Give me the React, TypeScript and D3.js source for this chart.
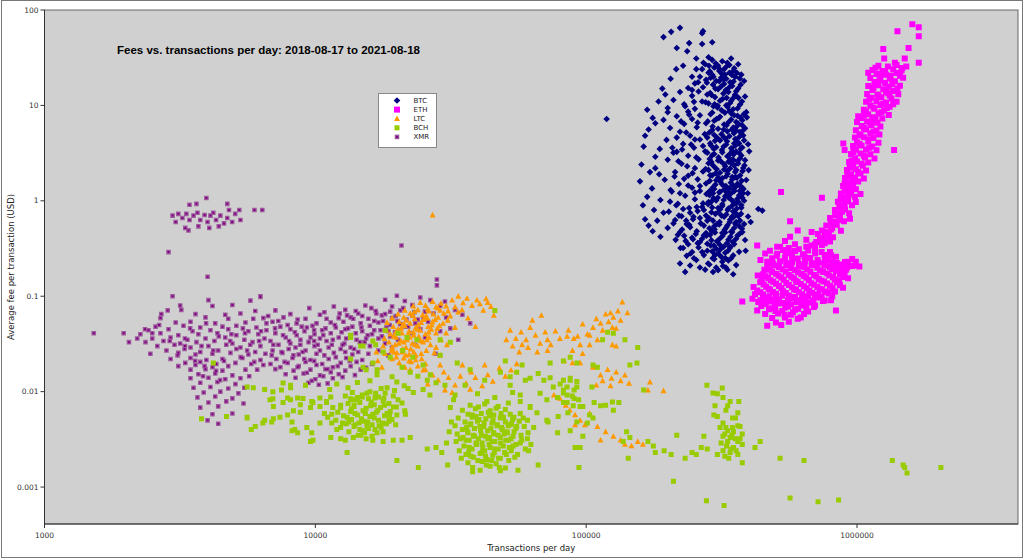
import React from 'react';
import * as d3 from 'd3';

// [transactions per day, average fee in USD]
type Pt = [number, number];

const btc: Pt[] = [
  [222e3,65],[206e3,59],[193e3,52],[270e3,60],[268e3,57],[268e3,44],[292e3,46],[216e3,40],[236e3,37],[255e3,31],[283e3,32],
  [191e3,15],[168e3,9],[176e3,7.4],[165e3,4.8],[163e3,3.7],[185e3,11],[187e3,3.5],[210e3,3.2],[160e3,2.4],[172e3,2.0],
  [168e3,1.1],[165e3,0.64],[176e3,0.48],[188e3,0.42],[204e3,0.98],[193e3,0.75],[232e3,0.18],[222e3,0.22],[263e3,0.2],
  [294e3,0.18],[349e3,0.17],[332e3,0.19],[432e3,0.82],[447e3,0.79],[119e3,7.2],
  [158e3,1.6],[162e3,0.9],[170e3,0.55],[175e3,1.35],[180e3,2.2],[178e3,0.8],[183e3,0.62],[170e3,5.6],[180e3,6.5],[200e3,8.5],
  [196e3,13],[205e3,19],[215e3,24],[228e3,26],[240e3,45],[246e3,20],[180e3,2.9],[186e3,1.9],
  [292e3,30],[318e3,29],[343e3,31],[275e3,27],[307e3,26],[332e3,28],[364e3,27],[268e3,24],[297e3,25],[323e3,24],[349e3,23],
  [283e3,22],[310e3,23],[338e3,22],[374e3,21],[263e3,20],[292e3,21],[315e3,19.5],[355e3,20],[277e3,18.5],[302e3,18],[329e3,19],[383e3,18],
  [252e3,17],[294e3,16.5],[323e3,16.8],[346e3,16],[238e3,15.2],[270e3,15.5],[307e3,14.8],[364e3,15],[222e3,13.8],[260e3,14],[287e3,13.5],[335e3,13.8],
  [246e3,12.6],[299e3,12.2],[355e3,12.8],[386e3,12.4],[210e3,11.4],[268e3,11],[318e3,11.6],[343e3,11.2],[230e3,10.3],[283e3,10.5],[329e3,10],[370e3,10.2],
  [200e3,9.4],[252e3,9.2],[305e3,9.5],[349e3,9.1],[238e3,8.6],[292e3,8.4],[338e3,8.7],[390e3,8.5],[216e3,7.7],[263e3,7.9],[312e3,7.6],[362e3,7.8],
  [193e3,7.05],[246e3,7.2],[297e3,6.9],[343e3,7.1],[377e3,7],[230e3,6.4],[277e3,6.5],[323e3,6.3],[364e3,6.45],
  [204e3,5.8],[256e3,5.9],[307e3,5.7],[349e3,5.85],[386e3,5.75],[222e3,5.3],[285e3,5.2],[332e3,5.35],[370e3,5.25],
  [242e3,4.8],[297e3,4.9],[338e3,4.75],[380e3,4.85],[198e3,4.35],[263e3,4.4],[312e3,4.3],[355e3,4.45],
  [228e3,3.95],[287e3,4],[329e3,3.9],[367e3,3.98],[396e3,3.92],[250e3,3.6],[302e3,3.65],[343e3,3.55],[377e3,3.62],
  [216e3,3.26],[275e3,3.3],[318e3,3.22],[358e3,3.28],[238e3,2.97],[292e3,3],[332e3,2.93],[374e3,2.99],
  [200e3,2.69],[260e3,2.72],[307e3,2.65],[349e3,2.7],[386e3,2.67],[225e3,2.45],[283e3,2.48],[323e3,2.42],[364e3,2.46],
  [252e3,2.2],[299e3,2.23],[340e3,2.18],[380e3,2.21],[213e3,2],[270e3,2.03],[312e3,1.97],[355e3,2.01],
  [238e3,1.83],[287e3,1.85],[329e3,1.81],[370e3,1.84],[195e3,1.66],[258e3,1.68],[302e3,1.64],[346e3,1.67],[390e3,1.65],
  [220e3,1.5],[277e3,1.52],[318e3,1.48],[362e3,1.51],[246e3,1.37],[294e3,1.39],[338e3,1.35],[377e3,1.38],
  [207e3,1.25],[263e3,1.27],[310e3,1.23],[352e3,1.26],[232e3,1.13],[285e3,1.15],[326e3,1.12],[367e3,1.14],
  [188e3,1.02],[252e3,1.04],[302e3,1.01],[343e3,1.03],[383e3,1.0],[218e3,0.93],[270e3,0.94],[318e3,0.92],[358e3,0.935],
  [240e3,0.84],[292e3,0.85],[335e3,0.83],[374e3,0.845],[202e3,0.77],[258e3,0.78],[307e3,0.76],[349e3,0.775],
  [225e3,0.69],[277e3,0.7],[323e3,0.68],[364e3,0.695],[396e3,0.685],[213e3,0.63],[248e3,0.64],[294e3,0.62],[340e3,0.635],
  [235e3,0.57],[265e3,0.58],[310e3,0.565],[355e3,0.575],[383e3,0.57],[200e3,0.52],[242e3,0.53],[285e3,0.515],[329e3,0.525],
  [222e3,0.47],[256e3,0.48],[299e3,0.465],[343e3,0.475],[377e3,0.47],[230e3,0.43],[272e3,0.435],[318e3,0.425],[362e3,0.432],
  [214e3,0.39],[248e3,0.395],[290e3,0.385],[335e3,0.392],[386e3,0.388],[238e3,0.35],[280e3,0.355],[312e3,0.345],[352e3,0.352],
  [223e3,0.32],[260e3,0.325],[302e3,0.315],[340e3,0.322],[246e3,0.29],[292e3,0.295],[326e3,0.285],[367e3,0.292],
  [235e3,0.265],[272e3,0.27],[315e3,0.26],[349e3,0.268],[255e3,0.24],[297e3,0.245],[335e3,0.237],
  [242e3,0.21],[285e3,0.215],[320e3,0.207],[358e3,0.212],[275e3,0.19],[307e3,0.188],
  [292e3,5.54],[358e3,5.5],[280e3,4.6],[323e3,4.62],[270e3,3.75],[355e3,3.78],[297e3,3.1],[340e3,3.12],[290e3,2.55],[335e3,2.57],
  [283e3,2.11],[323e3,2.13],[307e3,1.75],[355e3,1.77],[263e3,1.43],[349e3,1.45],[294e3,1.2],[332e3,1.21],[283e3,0.97],[364e3,0.98],
  [272e3,0.8],[312e3,0.81],[263e3,0.66],[349e3,0.67],[297e3,0.54],[367e3,0.545],[277e3,0.46],[326e3,0.465],[263e3,0.37],[305e3,0.372],
  [300e3,25.5],[325e3,21],[288e3,19.5],[340e3,17.5],[315e3,15.8],[280e3,13],[330e3,12],[295e3,9.8],
  [400e3,3.3],[395e3,1.2],[405e3,0.6],[392e3,7.5],[398e3,2.1],[388e3,0.3],
];

// the dense middle of the BTC column
const btcCore: Pt[] = [
  [271e3,28],[301e3,27.5],[327e3,25],[352e3,24.5],[286e3,22.8],[316e3,21.6],[345e3,20.8],[369e3,19.2],[279e3,17.3],[310e3,17.9],
  [337e3,15.4],[358e3,14.1],[290e3,12.9],[321e3,13.3],[348e3,11.8],[376e3,11],[276e3,10.8],[306e3,9.9],[333e3,9.6],[362e3,9.3],
  [288e3,8.1],[316e3,8.9],[344e3,8.2],[372e3,7.4],[281e3,6.8],[309e3,7.4],[336e3,6.7],[361e3,6.1],[293e3,6],[322e3,5.6],
  [351e3,5.1],[380e3,5.5],[274e3,5],[304e3,4.6],[331e3,4.2],[364e3,4.1],[289e3,3.8],[317e3,3.4],[346e3,3.35],[372e3,3.5],
  [280e3,3.2],[308e3,2.85],[338e3,2.8],[362e3,2.6],[294e3,2.35],[326e3,2.3],[352e3,2.35],[378e3,2.05],[276e3,2.15],[301e3,1.95],
  [333e3,1.92],[360e3,1.75],[286e3,1.62],[313e3,1.58],[342e3,1.55],[369e3,1.45],[297e3,1.33],[323e3,1.31],[351e3,1.3],[380e3,1.2],
  [278e3,1.18],[306e3,1.08],[336e3,1.08],[362e3,1.05],[289e3,0.97],[318e3,0.88],[346e3,0.89],[374e3,0.9],[268e3,0.86],[300e3,0.73],
  [329e3,0.72],[357e3,0.74],[284e3,0.66],[311e3,0.6],[339e3,0.6],[370e3,0.62],[272e3,0.55],[298e3,0.5],[325e3,0.5],[352e3,0.52],
  [287e3,0.44],[314e3,0.41],[341e3,0.42],[368e3,0.45],[268e3,0.4],[296e3,0.34],[322e3,0.33],[348e3,0.37],[280e3,0.3],[307e3,0.28],
  [334e3,0.3],[293e3,0.25],[318e3,0.23],[343e3,0.25],[282e3,0.22],[302e3,0.2],[328e3,0.2],
  [215e3,0.9],[228e3,0.82],[242e3,0.75],[256e3,0.86],[220e3,0.7],[234e3,0.62],[249e3,0.68],[210e3,0.58],[226e3,0.5],[240e3,0.56],
  [254e3,0.45],[218e3,0.44],[233e3,0.38],[246e3,0.41],[258e3,0.36],[228e3,0.32],[243e3,0.28],[250e3,0.25],[205e3,1.3],[222e3,1.2],
  [238e3,1.45],[252e3,1.22],[212e3,1.8],[230e3,1.7],[247e3,1.95],[219e3,2.6],[236e3,2.3],[255e3,2.85],[208e3,3.6],[226e3,3.45],
  [244e3,3.9],[216e3,4.6],[234e3,5.2],[252e3,4.4],[224e3,6.8],[240e3,8],[258e3,6.6],[232e3,9.8],[250e3,10.9],[246e3,14.5],
  [259e3,17.5],[255e3,24],
  [284e3,26],[311e3,24],[338e3,26.5],[360e3,22],[295e3,20],[322e3,18.7],[350e3,17.8],[372e3,16.5],[300e3,15],[328e3,14.5],
  [355e3,13],[312e3,11.2],[340e3,10.6],[365e3,12],[298e3,10.3],[325e3,8.4],[352e3,7.9],[382e3,8.1],[303e3,7.2],[330e3,6.2],
  [358e3,6.7],[377e3,6.2],[290e3,5.4],[316e3,5],[345e3,5.6],[368e3,4.7],[299e3,4.25],[326e3,4.5],[352e3,4],[383e3,4.3],
  [296e3,3.5],[322e3,3.7],[350e3,3.05],[368e3,3.15],[286e3,2.75],[314e3,2.6],[342e3,2.5],[370e3,2.8],[303e3,2.15],[332e3,2.05],
  [358e3,2.1],[384e3,2.35],[292e3,1.85],[318e3,1.72],[346e3,1.78],[375e3,1.62],[300e3,1.48],[328e3,1.43],[356e3,1.4],[381e3,1.33],
  [286e3,1.27],[312e3,1.24],[341e3,1.18],[369e3,1.27],[295e3,1.07],[322e3,1.02],[350e3,0.98],[377e3,1.08],[282e3,0.92],[307e3,0.84],
  [333e3,0.8],[360e3,0.83],[290e3,0.76],[316e3,0.7],[345e3,0.68],[373e3,0.73],[280e3,0.62],[304e3,0.57],[332e3,0.55],[358e3,0.6],
  [291e3,0.48],[318e3,0.46],[346e3,0.47],[376e3,0.51],[278e3,0.43],[305e3,0.38],[331e3,0.36],[358e3,0.4],[288e3,0.34],[313e3,0.31],
  [340e3,0.33],[299e3,0.27],[327e3,0.25],[268e3,0.29],
];

const eth: Pt[] = [
  [1.6e6,71],[1.69e6,66],[1.41e6,60],[1.69e6,53],[1.55e6,40],[1.25e6,39],[1.5e6,31],[1.26e6,31],[1.69e6,28],[1.1e6,22],
  [0.89e6,4.0],[0.9e6,3.4],[1.01e6,7.7],[1.37e6,3.4],[524e3,1.24],[742e3,1.08],[566e3,0.61],[428e3,0.34],[377e3,0.088],
  [1.2e6,26],[1.3e6,25.5],[1.4e6,26.5],[1.14e6,23.5],[1.24e6,23],[1.36e6,24],[1.46e6,23.2],[1.18e6,21.4],[1.28e6,21],[1.4e6,21.8],
  [1.12e6,19.4],[1.22e6,19.8],[1.32e6,19.1],[1.48e6,19.5],[1.16e6,17.6],[1.27e6,17.2],[1.38e6,17.9],
  [1.1e6,16],[1.2e6,16.3],[1.31e6,15.7],[1.44e6,16.1],[1.14e6,14.5],[1.25e6,14.8],[1.36e6,14.2],
  [1.09e6,13.2],[1.19e6,13],[1.3e6,13.4],[1.42e6,13.1],[1.13e6,12],[1.23e6,12.2],[1.34e6,11.8],
  [1.08e6,10.9],[1.18e6,11.1],[1.28e6,10.7],[1.4e6,10.95],[1.12e6,9.9],[1.22e6,10.1],[1.32e6,9.7],
  [1.06e6,9],[1.16e6,9.2],[1.26e6,8.85],[1.1e6,8.1],[1.2e6,8.25],[1.31e6,7.95],
  [1.04e6,7.4],[1.14e6,7.5],[1.24e6,7.3],[1.0e6,6.7],[1.09e6,6.8],[1.19e6,6.6],[1.04e6,6.1],[1.13e6,6.2],[1.22e6,6.0],
  [0.99e6,5.5],[1.08e6,5.6],[1.18e6,5.45],[1.03e6,5.0],[1.12e6,5.1],[1.21e6,4.95],[0.983e6,4.6],[1.06e6,4.65],[1.15e6,4.55],
  [1.0e6,4.1],[1.1e6,4.18],[1.2e6,4.05],[0.967e6,3.75],[1.04e6,3.8],[1.14e6,3.7],[0.99e6,3.42],[1.08e6,3.46],[1.18e6,3.38],
  [0.95e6,3.1],[1.03e6,3.14],[1.12e6,3.07],[0.983e6,2.8],[1.07e6,2.84],[1.16e6,2.77],[0.935e6,2.55],[1.0e6,2.58],[1.1e6,2.52],
  [0.967e6,2.3],[1.05e6,2.33],[0.918e6,2.11],[0.99e6,2.14],[1.08e6,2.08],[0.95e6,1.9],[1.03e6,1.93],
  [0.903e6,1.73],[0.983e6,1.75],[1.06e6,1.71],[0.935e6,1.57],[1.01e6,1.59],[0.888e6,1.43],[0.967e6,1.45],
  [0.918e6,1.3],[0.99e6,1.32],[0.872e6,1.19],[0.95e6,1.2],[1.03e6,1.18],[0.903e6,1.08],[0.983e6,1.1],
  [0.85e6,0.98],[0.927e6,0.99],[0.99e6,0.97],[0.88e6,0.89],[0.958e6,0.9],[0.829e6,0.8],[0.903e6,0.81],
  [0.857e6,0.73],[0.935e6,0.74],[0.795e6,0.66],[0.865e6,0.67],[0.942e6,0.65],[0.822e6,0.6],[0.895e6,0.61],
  [0.77e6,0.55],[0.842e6,0.56],[0.742e6,0.49],[0.802e6,0.5],[0.872e6,0.485],[0.717e6,0.45],[0.787e6,0.455],
  [0.755e6,0.41],[0.815e6,0.415],[0.707e6,0.37],[0.795e6,0.375],[0.68e6,0.34],[0.742e6,0.345],
  [566e3,0.42],[604e3,0.49],[680e3,0.47],[650e3,0.39],[700e3,0.35],[590e3,0.35],[507e3,0.33],[542e3,0.38],[748e3,0.39],
  [795e3,0.29],[836e3,0.26],[927e3,0.23],[983e3,0.21],
  [477e3,0.3],[533e3,0.305],[590e3,0.298],[660e3,0.302],[458e3,0.28],[507e3,0.278],[566e3,0.283],[632e3,0.276],[700e3,0.281],
  [486e3,0.25],[542e3,0.253],[604e3,0.248],[671e3,0.252],[762e3,0.249],
  [466e3,0.23],[520e3,0.232],[576e3,0.228],[643e3,0.231],[720e3,0.227],[808e3,0.233],[903e3,0.229],
  [496e3,0.21],[552e3,0.212],[616e3,0.208],[684e3,0.211],[762e3,0.209],[850e3,0.213],[958e3,0.207],
  [477e3,0.19],[530e3,0.192],[590e3,0.188],[655e3,0.191],[730e3,0.187],[808e3,0.193],[910e3,0.189],
  [450e3,0.17],[502e3,0.172],[560e3,0.168],[623e3,0.171],[693e3,0.167],[777e3,0.173],[865e3,0.169],
  [470e3,0.155],[525e3,0.157],[585e3,0.153],[650e3,0.156],[722e3,0.152],[815e3,0.158],[927e3,0.154],
  [439e3,0.14],[490e3,0.142],[548e3,0.138],[604e3,0.141],[678e3,0.137],[755e3,0.143],[842e3,0.139],
  [462e3,0.126],[515e3,0.128],[576e3,0.124],[637e3,0.127],[714e3,0.125],[795e3,0.129],[888e3,0.123],
  [428e3,0.115],[477e3,0.117],[533e3,0.113],[595e3,0.116],[666e3,0.114],[742e3,0.118],[829e3,0.112],
  [450e3,0.104],[502e3,0.106],[560e3,0.102],[627e3,0.105],[700e3,0.103],[787e3,0.107],
  [411e3,0.094],[462e3,0.096],[515e3,0.092],[576e3,0.095],[643e3,0.093],[720e3,0.097],[802e3,0.091],
  [432e3,0.087],[482e3,0.088],[537e3,0.085],[600e3,0.087],[671e3,0.086],[748e3,0.089],
  [443e3,0.079],[498e3,0.081],[556e3,0.078],[623e3,0.08],[693e3,0.077],
  [428e3,0.071],[473e3,0.073],[530e3,0.07],[590e3,0.072],[660e3,0.069],[836e3,0.071],
  [458e3,0.065],[511e3,0.066],[570e3,0.064],[637e3,0.065],[486e3,0.059],[542e3,0.06],[604e3,0.058],
  [502e3,0.053],[560e3,0.054],[466e3,0.049],[525e3,0.05],
  [490e3,0.22],[548e3,0.222],[610e3,0.218],[680e3,0.221],[757e3,0.219],[842e3,0.223],
  [466e3,0.2],[515e3,0.202],[572e3,0.198],[640e3,0.201],[714e3,0.199],[795e3,0.203],[880e3,0.197],
  [486e3,0.18],[545e3,0.182],[606e3,0.178],[673e3,0.181],[750e3,0.179],[836e3,0.183],
  [460e3,0.162],[513e3,0.164],[572e3,0.16],[636e3,0.163],[708e3,0.161],[790e3,0.165],[890e3,0.159],
  [480e3,0.147],[536e3,0.149],[595e3,0.145],[664e3,0.148],[738e3,0.146],[828e3,0.15],
  [452e3,0.133],[502e3,0.135],[560e3,0.131],[620e3,0.134],[695e3,0.132],[775e3,0.136],[865e3,0.13],
  [472e3,0.12],[526e3,0.122],[586e3,0.118],[652e3,0.121],[728e3,0.119],[812e3,0.123],
  [440e3,0.11],[490e3,0.111],[546e3,0.108],[610e3,0.11],[683e3,0.109],[762e3,0.112],
  [475e3,0.1],[530e3,0.101],[590e3,0.098],[660e3,0.1],[740e3,0.099],
  [440e3,0.091],[497e3,0.092],[556e3,0.089],[620e3,0.091],[690e3,0.09],
  [460e3,0.083],[512e3,0.084],[572e3,0.082],[640e3,0.083],[485e3,0.075],[543e3,0.076],[606e3,0.074],
];

const ethBranch: Pt[] = [
  [1.17e6,24.8],[1.27e6,22.3],[1.33e6,20.5],[1.21e6,18.3],[1.35e6,16.7],[1.15e6,15.2],[1.28e6,13.8],[1.41e6,15],[1.2e6,12.6],
  [1.32e6,12.7],[1.11e6,11.5],[1.25e6,10.4],[1.36e6,10.3],[1.15e6,9.5],[1.29e6,9.4],[1.08e6,8.6],[1.23e6,8.5],[1.44e6,20.3],
  [1.47e6,24.7],[1.52e6,25.5],[1.38e6,28],
  [1.06e6,7.9],[1.17e6,7.1],[1.12e6,6.5],[1.06e6,5.8],[1.15e6,5.3],[1.02e6,4.85],[1.1e6,4.4],[1.02e6,3.95],[1.11e6,3.6],
  [0.97e6,3.25],[1.06e6,2.97],[0.955e6,2.65],[1.04e6,2.45],[0.94e6,2.22],[1.01e6,2.0],[0.92e6,1.82],[0.96e6,1.65],[0.9e6,1.5],
  [0.94e6,1.38],[0.9e6,1.25],[0.93e6,1.14],[0.87e6,1.03],[0.9e6,0.94],[0.86e6,0.85],[0.88e6,0.77],[0.83e6,0.7],[0.86e6,0.63],
  [0.8e6,0.58],[0.81e6,0.52],[0.76e6,0.47],[0.78e6,0.43],[0.73e6,0.39],[0.76e6,0.36],
  [505e3,0.265],[575e3,0.262],[640e3,0.26],[715e3,0.24],[780e3,0.235],[830e3,0.22],[880e3,0.215],[920e3,0.2],[850e3,0.19],
  [870e3,0.175],[900e3,0.165],[860e3,0.145],[780e3,0.11],[720e3,0.105],[810e3,0.1],[760e3,0.09],[700e3,0.08],[650e3,0.075],
  [580e3,0.068],[620e3,0.06],[540e3,0.064],[500e3,0.07],[455e3,0.085],[420e3,0.105],[415e3,0.125],[445e3,0.15],[430e3,0.165],
  [455e3,0.19],[440e3,0.24],[520e3,0.33],[560e3,0.32],[610e3,0.31],[650e3,0.33],[700e3,0.31],[740e3,0.29],[800e3,0.27],
  [960e3,0.245],[990e3,0.23],[1.02e6,0.205],[760e3,0.27],[545e3,0.29],
];

const ltc: Pt[] = [
  [27.1e3,0.71],
  [24.4e3,0.086],[27.1e3,0.088],[29.1e3,0.084],[23e3,0.079],[25.5e3,0.08],[27.9e3,0.077],[30.4e3,0.079],
  [21.4e3,0.071],[23.9e3,0.072],[26.3e3,0.07],[28.9e3,0.071],[20.2e3,0.065],[22.4e3,0.066],[24.9e3,0.064],[27.3e3,0.065],[29.8e3,0.066],
  [19.2e3,0.059],[21.2e3,0.06],[23.3e3,0.058],[25.9e3,0.059],[28.4e3,0.06],
  [18.4e3,0.053],[20.4e3,0.054],[22.4e3,0.052],[24.6e3,0.053],[27.1e3,0.054],[29.6e3,0.052],
  [19.4e3,0.048],[21.4e3,0.049],[23.5e3,0.047],[26.1e3,0.048],[28.7e3,0.049],
  [18.3e3,0.044],[20.2e3,0.045],[22.2e3,0.043],[24.4e3,0.044],[26.8e3,0.045],
  [18.9e3,0.04],[20.9e3,0.041],[23.1e3,0.039],[25.5e3,0.04],[27.9e3,0.041],
  [18e3,0.036],[19.9e3,0.037],[21.8e3,0.035],[23.9e3,0.036],[26.3e3,0.037],
  [18.7e3,0.033],[20.7e3,0.034],[22.8e3,0.032],[25e3,0.033],
  [17.8e3,0.03],[19.7e3,0.031],[21.6e3,0.029],[23.9e3,0.03],[26.6e3,0.031],
  [19.1e3,0.027],[21e3,0.028],[23.1e3,0.026],[25.7e3,0.027],
  [18.1e3,0.025],[20e3,0.0255],[22.2e3,0.0245],[24.6e3,0.025],[27.5e3,0.0255],
  [19.2e3,0.022],[21.2e3,0.0225],[23.5e3,0.0215],[20.4e3,0.02],[22.6e3,0.0205],[25.5e3,0.0195],
  [21.4e3,0.018],[23.9e3,0.0185],[22.4e3,0.017],[25e3,0.0168],
  [23.2e3,0.069],[25.7e3,0.062],[21.7e3,0.056],[24e3,0.05],[26.9e3,0.05],[20.7e3,0.046],[23e3,0.042],[19.5e3,0.038],
  [22.3e3,0.037],[24.5e3,0.034],[20.3e3,0.032],[22.5e3,0.028],[19.5e3,0.026],[21.6e3,0.024],
  [17e3,0.021],[17.6e3,0.018],[16.8e3,0.026],
  [22.9e3,0.063],[25.1e3,0.057],[27.7e3,0.057],[21.1e3,0.051],[23.8e3,0.045],[26.2e3,0.042],[28.2e3,0.046],[19.8e3,0.042],
  [22e3,0.04],[24.1e3,0.038],[21.2e3,0.033],[23.4e3,0.031],[25.8e3,0.035],[19.2e3,0.029],[20.9e3,0.026],[23.5e3,0.024],
  [19.9e3,0.023],[22.2e3,0.021],[24.7e3,0.022],[26e3,0.073],[28.4e3,0.075],[30.9e3,0.07],[31.5e3,0.062],[32.8e3,0.077],
  [34.8e3,0.072],[40.5e3,0.083],[42.7e3,0.094],[44.5e3,0.078],
  [32e3,0.091],[33.7e3,0.1],[35.1e3,0.085],[36.3e3,0.095],[37.9e3,0.08],[39.5e3,0.091],[41.7e3,0.071],[43.3e3,0.086],[45.6e3,0.063],
  [33.7e3,0.068],[30.8e3,0.056],[36.6e3,0.059],[39e3,0.048],[32.8e3,0.047],[30.4e3,0.041],[29.1e3,0.035],[27.9e3,0.029],[28.9e3,0.024],[30.6e3,0.031],
  [25.5e3,0.017],[27.1e3,0.0149],[28.4e3,0.0132],[29.8e3,0.016],[31e3,0.014],[32.8e3,0.0117],[34.3e3,0.0145],[36e3,0.0122],
  [37.6e3,0.016],[39e3,0.014],[41.3e3,0.0115],[43.3e3,0.015],[45.2e3,0.0128],[47.8e3,0.0177],[50.3e3,0.0145],[52.8e3,0.0168],
  [55.4e3,0.0196],[26e3,0.012],[32e3,0.0098],[37.3e3,0.0106],[28.9e3,0.019],[34.9e3,0.019],[42.2e3,0.019],[30.1e3,0.0104],
  [52.4e3,0.044],[55e3,0.036],[57.5e3,0.042],[60e3,0.035],[62.1e3,0.047],[65e3,0.039],[67.6e3,0.032],[70.6e3,0.042],
  [53.5e3,0.03],[56.6e3,0.026],[61e3,0.029],[66e3,0.026],[72e3,0.027],[63.3e3,0.056],[68.3e3,0.063],[50.7e3,0.035],[58e3,0.031],[72e3,0.035],
  [85e3,0.038],[86e3,0.044],[89e3,0.027],[93e3,0.038],[95e3,0.031],[97e3,0.051],[97e3,0.025],[101e3,0.04],[103e3,0.031],
  [106e3,0.047],[110e3,0.035],[113e3,0.052],[118e3,0.065],[123e3,0.067],[125e3,0.047],[126e3,0.06],[129e3,0.046],[131e3,0.07],
  [136e3,0.087],[142e3,0.067],[125e3,0.031],[129e3,0.030],[89e3,0.02],[95e3,0.02],[83e3,0.021],[80e3,0.036],[77e3,0.043],
  [74e3,0.031],[109e3,0.058],[115e3,0.044],[134e3,0.056],[103e3,0.039],[90e3,0.036],[121e3,0.054],
  [106e3,0.018],[113e3,0.0149],[115e3,0.013],[120e3,0.017],[124e3,0.0138],[129e3,0.016],[134e3,0.013],[139e3,0.0149],
  [144e3,0.0122],[109e3,0.0117],[123e3,0.0115],[172e3,0.0126],[169e3,0.0104],[193e3,0.0102],
  [84e3,0.0072],[87e3,0.0064],[91e3,0.0057],[95e3,0.005],[91e3,0.0045],[99e3,0.0045],[103e3,0.0059],[110e3,0.0043],
  [118e3,0.0038],[126e3,0.0034],[134e3,0.0031],[139e3,0.0028],[147e3,0.0027],[155e3,0.003],[162e3,0.0028],[113e3,0.0031],
  [80e3,0.0085],[76e3,0.0092],
];

const bch: Pt[] = [
  [37.3e3,0.0072],[42.2e3,0.0074],[47.3e3,0.007],[34.9e3,0.0064],[39e3,0.0066],[44.2e3,0.0063],[50.3e3,0.0065],
  [36.6e3,0.0058],[41e3,0.0059],[45.6e3,0.0057],[52.4e3,0.0058],[57.1e3,0.0059],
  [33.7e3,0.0053],[37.9e3,0.0054],[42.6e3,0.0052],[48.2e3,0.0053],[54.1e3,0.0054],
  [35.7e3,0.0048],[39.7e3,0.0049],[44.9e3,0.0047],[50.3e3,0.0048],[56.6e3,0.0049],
  [32.8e3,0.0044],[37.3e3,0.0045],[41.9e3,0.0043],[46.9e3,0.0044],[52.4e3,0.0045],[59.1e3,0.0043],
  [34.9e3,0.004],[38.7e3,0.0041],[43.3e3,0.0039],[49e3,0.004],[55e3,0.0041],
  [33.4e3,0.0036],[36.6e3,0.0037],[41e3,0.0035],[45.6e3,0.0036],[51.2e3,0.0037],[57.5e3,0.0035],
  [35.1e3,0.0033],[38.7e3,0.0034],[43.3e3,0.0032],[48.2e3,0.0033],[53.7e3,0.0034],[60.7e3,0.0032],
  [33.1e3,0.003],[37e3,0.0031],[41.3e3,0.0029],[46e3,0.003],[51.6e3,0.0031],[57.1e3,0.0029],
  [35.4e3,0.0027],[39.4e3,0.0028],[44.2e3,0.0026],[49.4e3,0.0027],[55e3,0.0028],
  [34e3,0.0024],[37.9e3,0.0025],[42.2e3,0.0024],[47.3e3,0.0025],[52.9e3,0.0024],[59.6e3,0.0025],
  [36e3,0.0022],[40.6e3,0.00225],[45.2e3,0.00215],[50.7e3,0.0022],
  [34.6e3,0.002],[38.4e3,0.00205],[43e3,0.00195],[48.2e3,0.002],[54.5e3,0.00205],
  [36.6e3,0.0018],[41.3e3,0.00185],[46.5e3,0.00175],[38.1e3,0.0016],[44.2e3,0.00165],[50.3e3,0.00158],[40.6e3,0.0015],[48.2e3,0.00148],
  [39.2e3,0.0055],[44e3,0.0056],[49.5e3,0.0054],[37.5e3,0.0046],[42e3,0.0047],[47e3,0.0045],[53e3,0.0046],
  [36.5e3,0.0038],[40.8e3,0.0039],[45.5e3,0.0037],[51e3,0.0038],[36e3,0.0031],[40e3,0.0032],[45e3,0.003],[50.5e3,0.0031],
  [37e3,0.0026],[41.5e3,0.0026],[46.2e3,0.0025],[52e3,0.0026],[37.5e3,0.0021],[42.5e3,0.0021],[47.5e3,0.002],
  [38e3,0.0057],[43.5e3,0.0061],[48.5e3,0.0059],[53.5e3,0.0051],[40.2e3,0.0051],[45.3e3,0.005],[51.5e3,0.0044],[36.2e3,0.0042],
  [40.5e3,0.0043],[44.5e3,0.0041],[48.7e3,0.0042],[54.2e3,0.0038],[38.3e3,0.0035],[42.5e3,0.0034],[47.3e3,0.0035],[52.8e3,0.0032],
  [57.8e3,0.0031],[34.3e3,0.0032],[39.2e3,0.0029],[43.8e3,0.0028],[48.3e3,0.0029],[53.8e3,0.0027],[36.8e3,0.0023],[41.2e3,0.0023],
  [45.8e3,0.0023],[50e3,0.0023],[55.8e3,0.0022],[39.8e3,0.0019],[44.8e3,0.0019],[51.8e3,0.0019],[42.8e3,0.0017],[47.8e3,0.0016],
  [31.2e3,0.0038],[30.5e3,0.0029],[31.8e3,0.0048],[61e3,0.0037],[62.5e3,0.0028],[58.5e3,0.0053],[46.5e3,0.0067],[40e3,0.0069],
  [44e3,0.0033],[49.8e3,0.0036],
  [24e3,0.0016],[20e3,0.0019],[25.9e3,0.0025],[27.9e3,0.0026],[29.3e3,0.0023],[30.8e3,0.0017],[38.1e3,0.00145],[56e3,0.0015],
  [61.3e3,0.0024],[66.5e3,0.0017],[91e3,0.0026],[78.4e3,0.0037],[71.6e3,0.005],[31.5e3,0.0068],[32.4e3,0.0082],[43e3,0.0079],
  [51.6e3,0.0076],[64e3,0.0042],[62.1e3,0.007],
  [13.7e3,0.0098],[15.9e3,0.01],[18.1e3,0.0096],[12.9e3,0.009],[14.9e3,0.0092],[17.1e3,0.0088],[19.4e3,0.009],
  [14e3,0.0082],[15.7e3,0.0084],[17.8e3,0.008],[20.2e3,0.0082],[13.2e3,0.0075],[14.6e3,0.0077],[16.5e3,0.0073],[18.7e3,0.0075],[20.9e3,0.0076],
  [12.4e3,0.0068],[13.9e3,0.007],[15.4e3,0.0067],[17.4e3,0.0068],[19.4e3,0.0069],
  [13.5e3,0.0062],[15e3,0.0063],[16.8e3,0.0061],[18.9e3,0.0062],[21.4e3,0.0063],
  [12.7e3,0.0056],[14.3e3,0.0057],[15.9e3,0.0055],[18e3,0.0056],[20e3,0.0057],
  [11.9e3,0.005],[13.6e3,0.0051],[15.1e3,0.0049],[17.1e3,0.005],[19.2e3,0.0051],
  [13e3,0.0046],[14.5e3,0.0047],[16.2e3,0.0045],[18.3e3,0.0046],[12.4e3,0.0042],[13.9e3,0.0043],[15.7e3,0.0041],[17.5e3,0.0042],
  [13.3e3,0.0038],[15e3,0.0039],[16.9e3,0.0037],[14.4e3,0.0035],[16.2e3,0.0034],[12.9e3,0.0031],[15.4e3,0.0032],
  [13.1e3,0.0023],[9.6e3,0.003],[9.8e3,0.0031],[11.4e3,0.0033],[12.4e3,0.0032],[14.7e3,0.0035],[16.3e3,0.0031],[17.8e3,0.003],
  [19.4e3,0.0031],[20.9e3,0.0031],[22.4e3,0.0033],
  [14.3e3,0.0087],[16.6e3,0.0086],[13.9e3,0.0072],[16e3,0.0071],[18e3,0.0072],[14e3,0.0059],[16.3e3,0.0058],[18.4e3,0.0059],
  [13.3e3,0.0048],[15.6e3,0.0048],[17.7e3,0.0047],[14.6e3,0.004],[16.6e3,0.004],
  [13.6e3,0.0066],[15.3e3,0.0059],[17e3,0.0064],[18.8e3,0.0055],[14.8e3,0.0052],[16.5e3,0.0053],[18.7e3,0.0049],[14e3,0.0045],
  [15.5e3,0.0044],[17.2e3,0.0044],[19.8e3,0.0045],[13.1e3,0.0054],[12.1e3,0.0061],[11.5e3,0.0058],[12.6e3,0.0047],[16.1e3,0.0078],
  [17.9e3,0.0085],[19.9e3,0.0069],[21.5e3,0.0058],[15.2e3,0.0037],[17.8e3,0.0038],[13.8e3,0.0033],
  [3.8e3,0.0052],[5.6e3,0.0053],[5.8e3,0.004],[6e3,0.0043],[4.7e3,0.0055],[5.6e3,0.0112],[6.4e3,0.0047],[6.9e3,0.0048],
  [6.8e3,0.0082],[6.97e3,0.0084],[7.5e3,0.0104],[7.6e3,0.0077],[7.4e3,0.0054],[7.9e3,0.0057],[8.2e3,0.0048],[8.8e3,0.0061],
  [8.4e3,0.004],[8.2e3,0.0039],[8.6e3,0.0037],[9.3e3,0.0042],[9.7e3,0.0037],[9e3,0.0085],[8.1e3,0.0082],[9.7e3,0.0079],
  [10.4e3,0.007],[11.1e3,0.0054],[10.4e3,0.0047],[10.8e3,0.0059],[11.5e3,0.0047],[12e3,0.004],[11.4e3,0.0088],[7.6e3,0.0123],
  [8.1e3,0.0117],[9.2e3,0.0117],[4.2e3,0.02],[5.9e3,0.011],[6.5e3,0.0105],[6.97e3,0.01],[8.1e3,0.011],[5.6e3,0.0054],
  [6.5e3,0.005],[7e3,0.0052],[7e3,0.007],[7.9e3,0.0086],[8.6e3,0.0086],[8.8e3,0.0073],[8.3e3,0.0063],[9.6e3,0.0068],
  [9.8e3,0.0077],[10.4e3,0.0086],[11e3,0.0077],[11.6e3,0.0068],[12.4e3,0.007],[13.5e3,0.0082],
  [13.5e3,0.039],[14.7e3,0.03],[16.7e3,0.031],[17.8e3,0.026],[18.9e3,0.023],[20.9e3,0.018],[22.4e3,0.016],[23.9e3,0.0145],
  [25.9e3,0.0132],[27.9e3,0.0124],[30.1e3,0.0117],[21e3,0.027],[22.9e3,0.023],[25e3,0.019],[26.6e3,0.015],[13.5e3,0.022],
  [15e3,0.018],[16.9e3,0.015],[19.2e3,0.0143],[20e3,0.0126],[22e3,0.0108],[18.4e3,0.011],[15.5e3,0.0096],[23.7e3,0.035],
  [21.8e3,0.037],[20.2e3,0.041],[28.9e3,0.035],[31.5e3,0.033],[28.9e3,0.024],[33.4e3,0.02],[46e3,0.071],[18.1e3,0.044],
  [13.5e3,0.037],[15e3,0.03],[16.3e3,0.034],[16.3e3,0.02],[16.9e3,0.017],[15.4e3,0.017],[15.9e3,0.013],[14.9e3,0.0088],
  [16.7e3,0.0096],[11.6e3,0.0068],[12.4e3,0.0072],[13.5e3,0.0084],[11e3,0.0079],
  [12e3,0.012],[13.2e3,0.011],[14.3e3,0.0125],[17.5e3,0.0108],[19.6e3,0.0103],[21.3e3,0.0115],[23e3,0.0098],[25e3,0.0105],
  [11.3e3,0.0105],[26.5e3,0.0092],
  [37.3e3,0.017],[42.2e3,0.0132],[48.2e3,0.016],[52.4e3,0.0117],[39.7e3,0.0095],[46e3,0.0087],[35.7e3,0.0117],[57.1e3,0.0092],
  [32.8e3,0.0092],[50.3e3,0.021],[58e3,0.019],
  [52.4e3,0.0143],[55.4e3,0.016],[59.6e3,0.0132],[62.1e3,0.0138],[66.5e3,0.0155],[69.8e3,0.0132],[73.6e3,0.014],[75.6e3,0.0112],
  [80.2e3,0.012],[82.4e3,0.0104],[87.3e3,0.0132],[92.4e3,0.0112],[67.6e3,0.0096],[71.6e3,0.0082],[78.4e3,0.0087],[85e3,0.0092],
  [90.3e3,0.0085],[82.4e3,0.0077],[97.2e3,0.007],[53.5e3,0.0098],[57.1e3,0.0079],[62.1e3,0.0068],[65.8e3,0.006],[60.7e3,0.005],
  [55.4e3,0.0043],[72.3e3,0.0048],[78.8e3,0.0055],[92.4e3,0.0048],[87.3e3,0.0039],[97.2e3,0.0034],[73.6e3,0.02],[82.4e3,0.021],
  [87.3e3,0.023],[92.4e3,0.02],
  [82.4e3,0.0132],[87.3e3,0.0138],[92.4e3,0.0128],[85e3,0.0112],[90.3e3,0.0104],[82.4e3,0.0097],[88.9e3,0.009],[93.8e3,0.0082],
  [85e3,0.0077],[89.6e3,0.0071],[95e3,0.007],[85.6e3,0.006],[103e3,0.0057],[106e3,0.0053],[101e3,0.0047],[107e3,0.0077],
  [113e3,0.0071],[118e3,0.0072],[126e3,0.0064],[110e3,0.018],[105e3,0.0112],[106e3,0.019],[115e3,0.035],[120e3,0.042],
  [126e3,0.041],[139e3,0.035],[155e3,0.029],[145e3,0.019],[154e3,0.02],[163e3,0.0104],[132e3,0.0077],[125e3,0.0078],
  [95e3,0.0026],[94e3,0.0016],[141e3,0.0038],[145e3,0.0033],[137e3,0.003],[143e3,0.002],[169e3,0.003],[177e3,0.0027],
  [180e3,0.0023],[194e3,0.0024],[206e3,0.0022],[216e3,0.0035],[232e3,0.002],[246e3,0.0023],[255e3,0.0022],[266e3,0.0026],
  [280e3,0.0025],[272e3,0.0034],[210e3,0.00115],[278e3,0.00072],[323e3,0.00064],[439e3,0.003],[420e3,0.0026],[377e3,0.0018],
  [520e3,0.002],
  [279e3,0.0117],[318e3,0.0109],[294e3,0.0097],[305e3,0.0095],[320e3,0.0087],[340e3,0.0079],[366e3,0.0079],[299e3,0.0071],
  [333e3,0.0071],[363e3,0.006],[296e3,0.0057],[305e3,0.0055],[328e3,0.0064],[347e3,0.0053],[356e3,0.0053],[320e3,0.0047],
  [363e3,0.0044],[370e3,0.0043],[312e3,0.0042],[333e3,0.0039],[350e3,0.0038],[377e3,0.0036],[320e3,0.0034],[340e3,0.0033],
  [363e3,0.003],[377e3,0.0028],[333e3,0.003],[350e3,0.0026],[320e3,0.0024],[340e3,0.0023],[363e3,0.0022],[336e3,0.002],
  [305e3,0.0022],[328e3,0.0042],[347e3,0.0042],[325e3,0.0036],[345e3,0.0035],[355e3,0.0032],[330e3,0.0027],[315e3,0.0029],
  [342e3,0.0025],[358e3,0.0024],[325e3,0.0021],[370e3,0.0032],
  [1.35e6,0.0019],[1.48e6,0.0017],[1.5e6,0.0016],[1.53e6,0.0014],[2.04e6,0.0016],[855e3,0.00073],[566e3,0.00077],[718e3,0.0007],[637e3,0.0019],
];

const xmr: Pt[] = [
  [3.96e3,1.07],[3.64e3,0.93],[4.73e3,0.93],[5.24e3,0.8],[5.96e3,0.8],[6.37e3,0.8],
  [2.97e3,0.7],[3.12e3,0.73],[3.23e3,0.66],[3.34e3,0.73],[3.43e3,0.63],[3.55e3,0.7],[3.67e3,0.75],[3.76e3,0.63],[3.9e3,0.71],
  [4e3,0.6],[4.1e3,0.7],[4.2e3,0.75],[4.3e3,0.63],[4.46e3,0.7],[4.6e3,0.58],[4.73e3,0.66],[4.93e3,0.6],[5.06e3,0.73],[5.29e3,0.63],
  [3.31e3,0.52],[3.4e3,0.49],[3.7e3,0.54],[3.05e3,0.6],[4.4e3,0.54],[4.06e3,0.52],[3.43e3,0.91],[4.8e3,0.8],
  [2.87e3,0.29],[4e3,0.16],[6.27e3,0.1],[20.8e3,0.34],[28.1e3,0.15],[28.1e3,0.13],[1.52e3,0.041],[1.96e3,0.041],
  [2.97e3,0.1],[6.27e3,0.098],[20e3,0.101],[24.4e3,0.097],
  [4.03e3,0.091],[5.76e3,0.09],[18.1e3,0.092],[21.4e3,0.089],[26.6e3,0.091],[30.1e3,0.088],
  [3.17e3,0.08],[4.17e3,0.079],[4.94e3,0.081],[15.3e3,0.08],[19.2e3,0.078],[22.8e3,0.081],[28.9e3,0.079],
  [2.85e3,0.071],[3.2e3,0.072],[6e3,0.07],[7.12e3,0.071],[12.9e3,0.072],[16.7e3,0.07],[20.6e3,0.071],[25.4e3,0.069],[32.8e3,0.072],
  [3.61e3,0.065],[4.65e3,0.064],[5.29e3,0.066],[8.09e3,0.065],[10.4e3,0.064],[14.4e3,0.066],[18.1e3,0.065],[22.8e3,0.063],[27.3e3,0.066],[34.9e3,0.064],
  [2.68e3,0.059],[3.93e3,0.06],[4.77e3,0.058],[6.43e3,0.059],[7.63e3,0.06],[9.2e3,0.058],[12.2e3,0.059],[13.5e3,0.06],[15.7e3,0.058],[19.2e3,0.059],[23.9e3,0.057],[30.4e3,0.06],
  [3.05e3,0.053],[3.46e3,0.054],[4.27e3,0.052],[5.52e3,0.053],[6.95e3,0.054],[8.53e3,0.052],[11.4e3,0.053],[12.7e3,0.054],[14.7e3,0.052],[17.1e3,0.053],[20.6e3,0.051],[26.1e3,0.054],[37.3e3,0.052],
  [2.57e3,0.048],[3.26e3,0.049],[3.76e3,0.047],[4.54e3,0.048],[5.11e3,0.049],[6.06e3,0.047],[7.43e3,0.048],[9.76e3,0.049],[11.9e3,0.047],[13.7e3,0.048],[15.9e3,0.049],[18.3e3,0.047],[22e3,0.048],[31.5e3,0.046],
  [2.42e3,0.044],[2.87e3,0.045],[3.52e3,0.043],[4.1e3,0.044],[4.77e3,0.045],[5.66e3,0.043],[6.6e3,0.044],[8.09e3,0.045],[9.12e3,0.043],[10.6e3,0.044],[12.9e3,0.045],[14.9e3,0.043],[17.4e3,0.044],[19.7e3,0.042],[24.4e3,0.045],[28.9e3,0.043],
  [2.26e3,0.04],[2.68e3,0.041],[3.12e3,0.039],[3.7e3,0.04],[4.35e3,0.041],[5.11e3,0.039],[6.16e3,0.04],[7.12e3,0.041],[8.53e3,0.039],[9.93e3,0.04],[11.4e3,0.041],[13.5e3,0.039],[16.2e3,0.04],[18.9e3,0.038],[22.8e3,0.041],
  [2.5e3,0.036],[2.92e3,0.037],[3.37e3,0.035],[3.93e3,0.036],[4.65e3,0.037],[5.47e3,0.035],[6.49e3,0.036],[7.77e3,0.037],[8.81e3,0.035],[10.4e3,0.036],[12.2e3,0.037],[14.2e3,0.035],[17.1e3,0.036],[20.2e3,0.035],[25.4e3,0.037],[33.7e3,0.035],
  [2.36e3,0.033],[2.75e3,0.034],[3.17e3,0.032],[3.64e3,0.033],[4.24e3,0.034],[4.94e3,0.032],[5.86e3,0.033],[6.83e3,0.034],[8.09e3,0.032],[9.44e3,0.033],[11e3,0.034],[12.8e3,0.032],[15.2e3,0.033],[18.1e3,0.032],
  [2.61e3,0.03],[3.02e3,0.031],[3.46e3,0.029],[4.03e3,0.03],[4.69e3,0.031],[5.29e3,0.029],[6.27e3,0.03],[7.31e3,0.031],[8.45e3,0.029],[9.93e3,0.03],[11.5e3,0.031],[13.5e3,0.029],[15.9e3,0.03],[19.2e3,0.029],[23.3e3,0.031],
  [2.82e3,0.027],[3.29e3,0.028],[3.76e3,0.026],[4.38e3,0.027],[5.11e3,0.028],[6e3,0.026],[6.95e3,0.027],[7.97e3,0.028],[8.97e3,0.026],[10.4e3,0.027],[12.4e3,0.028],[14.4e3,0.026],[17.1e3,0.027],
  [2.46e3,0.025],[3.12e3,0.0255],[3.61e3,0.0245],[4.17e3,0.025],[4.86e3,0.0255],[5.66e3,0.0245],[6.54e3,0.025],[7.56e3,0.0255],[8.68e3,0.0245],[10.1e3,0.025],[11.7e3,0.0255],[13.7e3,0.0245],[15.7e3,0.025],[18.6e3,0.024],[27.8e3,0.025],
  [2.92e3,0.022],[3.46e3,0.0225],[3.96e3,0.0215],[4.54e3,0.022],[5.38e3,0.0225],[6.27e3,0.0215],[7.18e3,0.022],[8.24e3,0.0225],[9.59e3,0.0215],[11.2e3,0.022],[13e3,0.0225],[14.9e3,0.0215],
  [3.31e3,0.02],[3.76e3,0.0205],[4.31e3,0.0195],[5.07e3,0.02],[5.95e3,0.0205],[6.83e3,0.0195],[7.9e3,0.02],[9.2e3,0.0205],[10.6e3,0.0195],[12.4e3,0.02],[14.2e3,0.0205],[16.2e3,0.0195],
  [3.12e3,0.0185],[3.61e3,0.019],[4.17e3,0.018],[4.77e3,0.0185],[6.43e3,0.019],[7.43e3,0.018],[8.68e3,0.0185],[10.1e3,0.019],[11.6e3,0.018],[13.5e3,0.0185],[15.4e3,0.0178],
  [3.46e3,0.017],[3.93e3,0.0172],[4.54e3,0.0166],[5.52e3,0.017],[7.12e3,0.0172],[8.31e3,0.0166],[9.59e3,0.017],[11.1e3,0.0172],[12.9e3,0.0166],[14.7e3,0.017],
  [3.7e3,0.0152],[4.27e3,0.0155],[4.94e3,0.0148],[7.77e3,0.0152],[9.05e3,0.0155],[10.4e3,0.0148],[12.2e3,0.0152],[14e3,0.0149],
  [3.46e3,0.0138],[4.03e3,0.014],[4.65e3,0.0135],[5.29e3,0.0138],[8.45e3,0.014],[10e3,0.0135],[11.6e3,0.0138],
  [3.76e3,0.0124],[4.35e3,0.0126],[5.07e3,0.012],[9.44e3,0.0124],[11.1e3,0.0122],
  [3.55e3,0.011],[4.1e3,0.0112],[4.77e3,0.0108],[5.47e3,0.011],[3.87e3,0.0098],[4.46e3,0.01],[5.2e3,0.0096],
  [3.67e3,0.0087],[4.27e3,0.0089],[4.94e3,0.0085],[4.03e3,0.0077],[4.69e3,0.0079],[5.43e3,0.0075],
  [3.76e3,0.0068],[4.38e3,0.007],[4.17e3,0.0058],[4.94e3,0.0059],[4e3,0.005],[4.38e3,0.0046],
  [5.9e3,0.058],[6.7e3,0.062],[7.3e3,0.055],[7.9e3,0.05],[8.6e3,0.057],[9.3e3,0.047],[10.1e3,0.052],[10.9e3,0.046],[11.8e3,0.05],
  [12.5e3,0.042],[13.2e3,0.046],[14.1e3,0.041],[14.8e3,0.047],[15.6e3,0.039],[16.5e3,0.044],[17.6e3,0.038],[18.6e3,0.043],
  [6.3e3,0.043],[7.6e3,0.039],[8.4e3,0.042],[9.6e3,0.037],[10.7e3,0.039],[11.6e3,0.035],[13e3,0.036],[14.6e3,0.033],[15.4e3,0.036],
  [6.2e3,0.034],[7e3,0.031],[8.8e3,0.031],[9.9e3,0.034],[11.2e3,0.029],[12.6e3,0.031],[13.9e3,0.028],[7.5e3,0.026],[8.3e3,0.024],
  [9.2e3,0.027],[10.8e3,0.024],[11.9e3,0.023],[12.9e3,0.026],[7.7e3,0.0205],[8.6e3,0.018],[9.9e3,0.021],[10.9e3,0.0172],
  [12.1e3,0.0185],[13.4e3,0.021],[9.3e3,0.0158],[10.7e3,0.0145],[11.4e3,0.016],[12.6e3,0.0142],[9.7e3,0.013],[10.3e3,0.0118],
  [16.8e3,0.066],[17.8e3,0.055],[19.8e3,0.062],[21.7e3,0.057],[23.4e3,0.052],[25.1e3,0.059],[18.9e3,0.069],[21.1e3,0.075],
  [23.2e3,0.068],[16.1e3,0.075],[14.1e3,0.07],[13.1e3,0.063],[3.45e3,0.046],[3.95e3,0.052],[4.4e3,0.038],[5.5e3,0.041],
  [2.9e3,0.034],[3.3e3,0.03],[4.85e3,0.034],[5.75e3,0.031],[4.2e3,0.027],[3.1e3,0.024],[5.3e3,0.023],[4.6e3,0.021],[3.6e3,0.021],
  [3.9e3,0.0185],[5.8e3,0.0195],[6.1e3,0.017],[4.3e3,0.0165],[3.85e3,0.0145],[4.45e3,0.0132],[5.7e3,0.0145],[2.65e3,0.05],
  [2.2e3,0.036],[2.05e3,0.033],[2.35e3,0.045],[2.7e3,0.065],
  [9.5e3,0.075],[10.8e3,0.068],[11.7e3,0.078],[12.3e3,0.066],[13.8e3,0.058],[14.9e3,0.062],[16.5e3,0.055],[17.6e3,0.063],
  [18.8e3,0.05],[20.1e3,0.055],[21.5e3,0.048],[11e3,0.058],[9.9e3,0.044],[8.9e3,0.048],[7.1e3,0.046],[6.6e3,0.052],[5.4e3,0.046],
  [4.9e3,0.04],[3.8e3,0.03],[3.3e3,0.036],[2.5e3,0.041],[6.9e3,0.024],[5.6e3,0.027],[8e3,0.034],[9.1e3,0.022],[10.2e3,0.031],
];

const seriesNames = ['BTC', 'ETH', 'LTC', 'BCH', 'XMR'];
const seriesColors = ['#000080', '#ff00ff', '#ff9900', '#99cc00', '#800080'];
const xTicks = [1000, 10000, 100000, 1000000];
const yTicks = [0.001, 0.01, 0.1, 1, 10, 100];
const title = 'Fees vs. transactions per day: 2018-08-17 to 2021-08-18';

const W = 1024;
const H = 560;
const plot = { left: 44.5, top: 10, right: 1018, bottom: 524 };
const font = 'DejaVu Sans, sans-serif';
const xmrHalo = '#9c5a9c';

type Shape = (cx: number, cy: number) => string;
const shapes: Record<string, Shape> = {
  BTC: (cx, cy) => `M${cx},${cy - 3.3}L${cx + 3.3},${cy}L${cx},${cy + 3.3}L${cx - 3.3},${cy}Z`,
  ETH: (cx, cy) => `M${cx - 3},${cy - 3}h6v6h-6Z`,
  LTC: (cx, cy) => `M${cx},${cy - 3.2}L${cx + 3},${cy + 2.4}L${cx - 3},${cy + 2.4}Z`,
  BCH: (cx, cy) => `M${cx - 2.5},${cy - 2.5}h5v5h-5Z`,
  XMR: (cx, cy) => `M${cx - 2.3},${cy - 2.3}h4.6v4.6h-4.6Z`,
};
const xmrCore: Shape = (cx, cy) => `M${cx - 1},${cy - 1}h2v2h-2Z`;

export default function App() {
  const x = d3.scaleLog().domain([1000, 3.93e6]).range([plot.left, plot.right]);
  const y = d3.scaleLog().domain([4.1e-4, 100]).range([plot.bottom, plot.top]);

  const toPath = (data: Pt[], shape: Shape) =>
    data.map(([a, b]) => shape(x(a), y(b))).join('');

  const color = (name: string) => seriesColors[seriesNames.indexOf(name)];

  return (
    <div style={{ position: 'absolute', left: 0, top: 0 }}>
      <svg width={W} height={H} style={{ display: 'block', background: '#fff' }}>
        <rect x={1.5} y={0.5} width={1021} height={557} fill="#fff" stroke="#777" />
        <rect x={plot.left} y={plot.top} width={plot.right - plot.left} height={plot.bottom - plot.top} fill="#d0d0d0" />

        <path d={toPath([...btc, ...btcCore], shapes.BTC)} fill={color('BTC')} />
        <path d={toPath([...eth, ...ethBranch], shapes.ETH)} fill={color('ETH')} />
        <path d={toPath(xmr, shapes.XMR)} fill={xmrHalo} />
        <path d={toPath(xmr, xmrCore)} fill={color('XMR')} />
        <path d={toPath(ltc, shapes.LTC)} fill={color('LTC')} />
        <path d={toPath(bch, shapes.BCH)} fill={color('BCH')} />

        <rect x={plot.left} y={plot.top} width={plot.right - plot.left} height={plot.bottom - plot.top}
          fill="none" stroke="#666" />
        <line x1={plot.left} x2={plot.left} y1={plot.top} y2={plot.bottom} stroke="#333" />
        <line x1={plot.left} x2={plot.right} y1={plot.bottom} y2={plot.bottom} stroke="#333" />

        {xTicks.map(t => (
          <g key={t} transform={`translate(${x(t)},${plot.bottom})`}>
            <line y1={0} y2={4} stroke="#333" />
            <text y={14} textAnchor="middle" fontFamily={font} fontSize={7.5} fill="#333">{String(t)}</text>
          </g>
        ))}
        {yTicks.map(t => (
          <g key={t} transform={`translate(${plot.left},${y(t)})`}>
            <line x1={-4} x2={0} stroke="#333" />
            <text x={-6} dy="0.35em" textAnchor="end" fontFamily={font} fontSize={7.5} fill="#333">{String(t)}</text>
          </g>
        ))}

        <text x={(plot.left + plot.right) / 2} y={551} textAnchor="middle" fontFamily={font} fontSize={8.5} fill="#222">
          Transactions per day
        </text>
        <text transform={`translate(14,${(plot.top + plot.bottom) / 2}) rotate(-90)`} textAnchor="middle"
          fontFamily={font} fontSize={8.5} fill="#222">
          Average fee per transaction (USD)
        </text>
        <text x={117} y={54} fontFamily="Liberation Sans, Arial, sans-serif" fontWeight="bold" fontSize={11.5} fill="#000">
          {title}
        </text>

        <g transform="translate(378.5,93.5)">
          <rect width={58} height={54} fill="#fff" stroke="#888" />
          {seriesNames.map((name, i) => {
            const cy = 7 + i * 9.1;
            return (
              <g key={name}>
                {name === 'XMR' ? (
                  <>
                    <path d={shapes.XMR(18.5, cy)} fill={xmrHalo} />
                    <path d={xmrCore(18.5, cy)} fill={color(name)} />
                  </>
                ) : (
                  <path d={shapes[name](18.5, cy)} fill={color(name)} />
                )}
                <text x={35} y={cy} dy="0.35em" fontFamily={font} fontSize={7} fill="#222">{name}</text>
              </g>
            );
          })}
        </g>
      </svg>
    </div>
  );
}
